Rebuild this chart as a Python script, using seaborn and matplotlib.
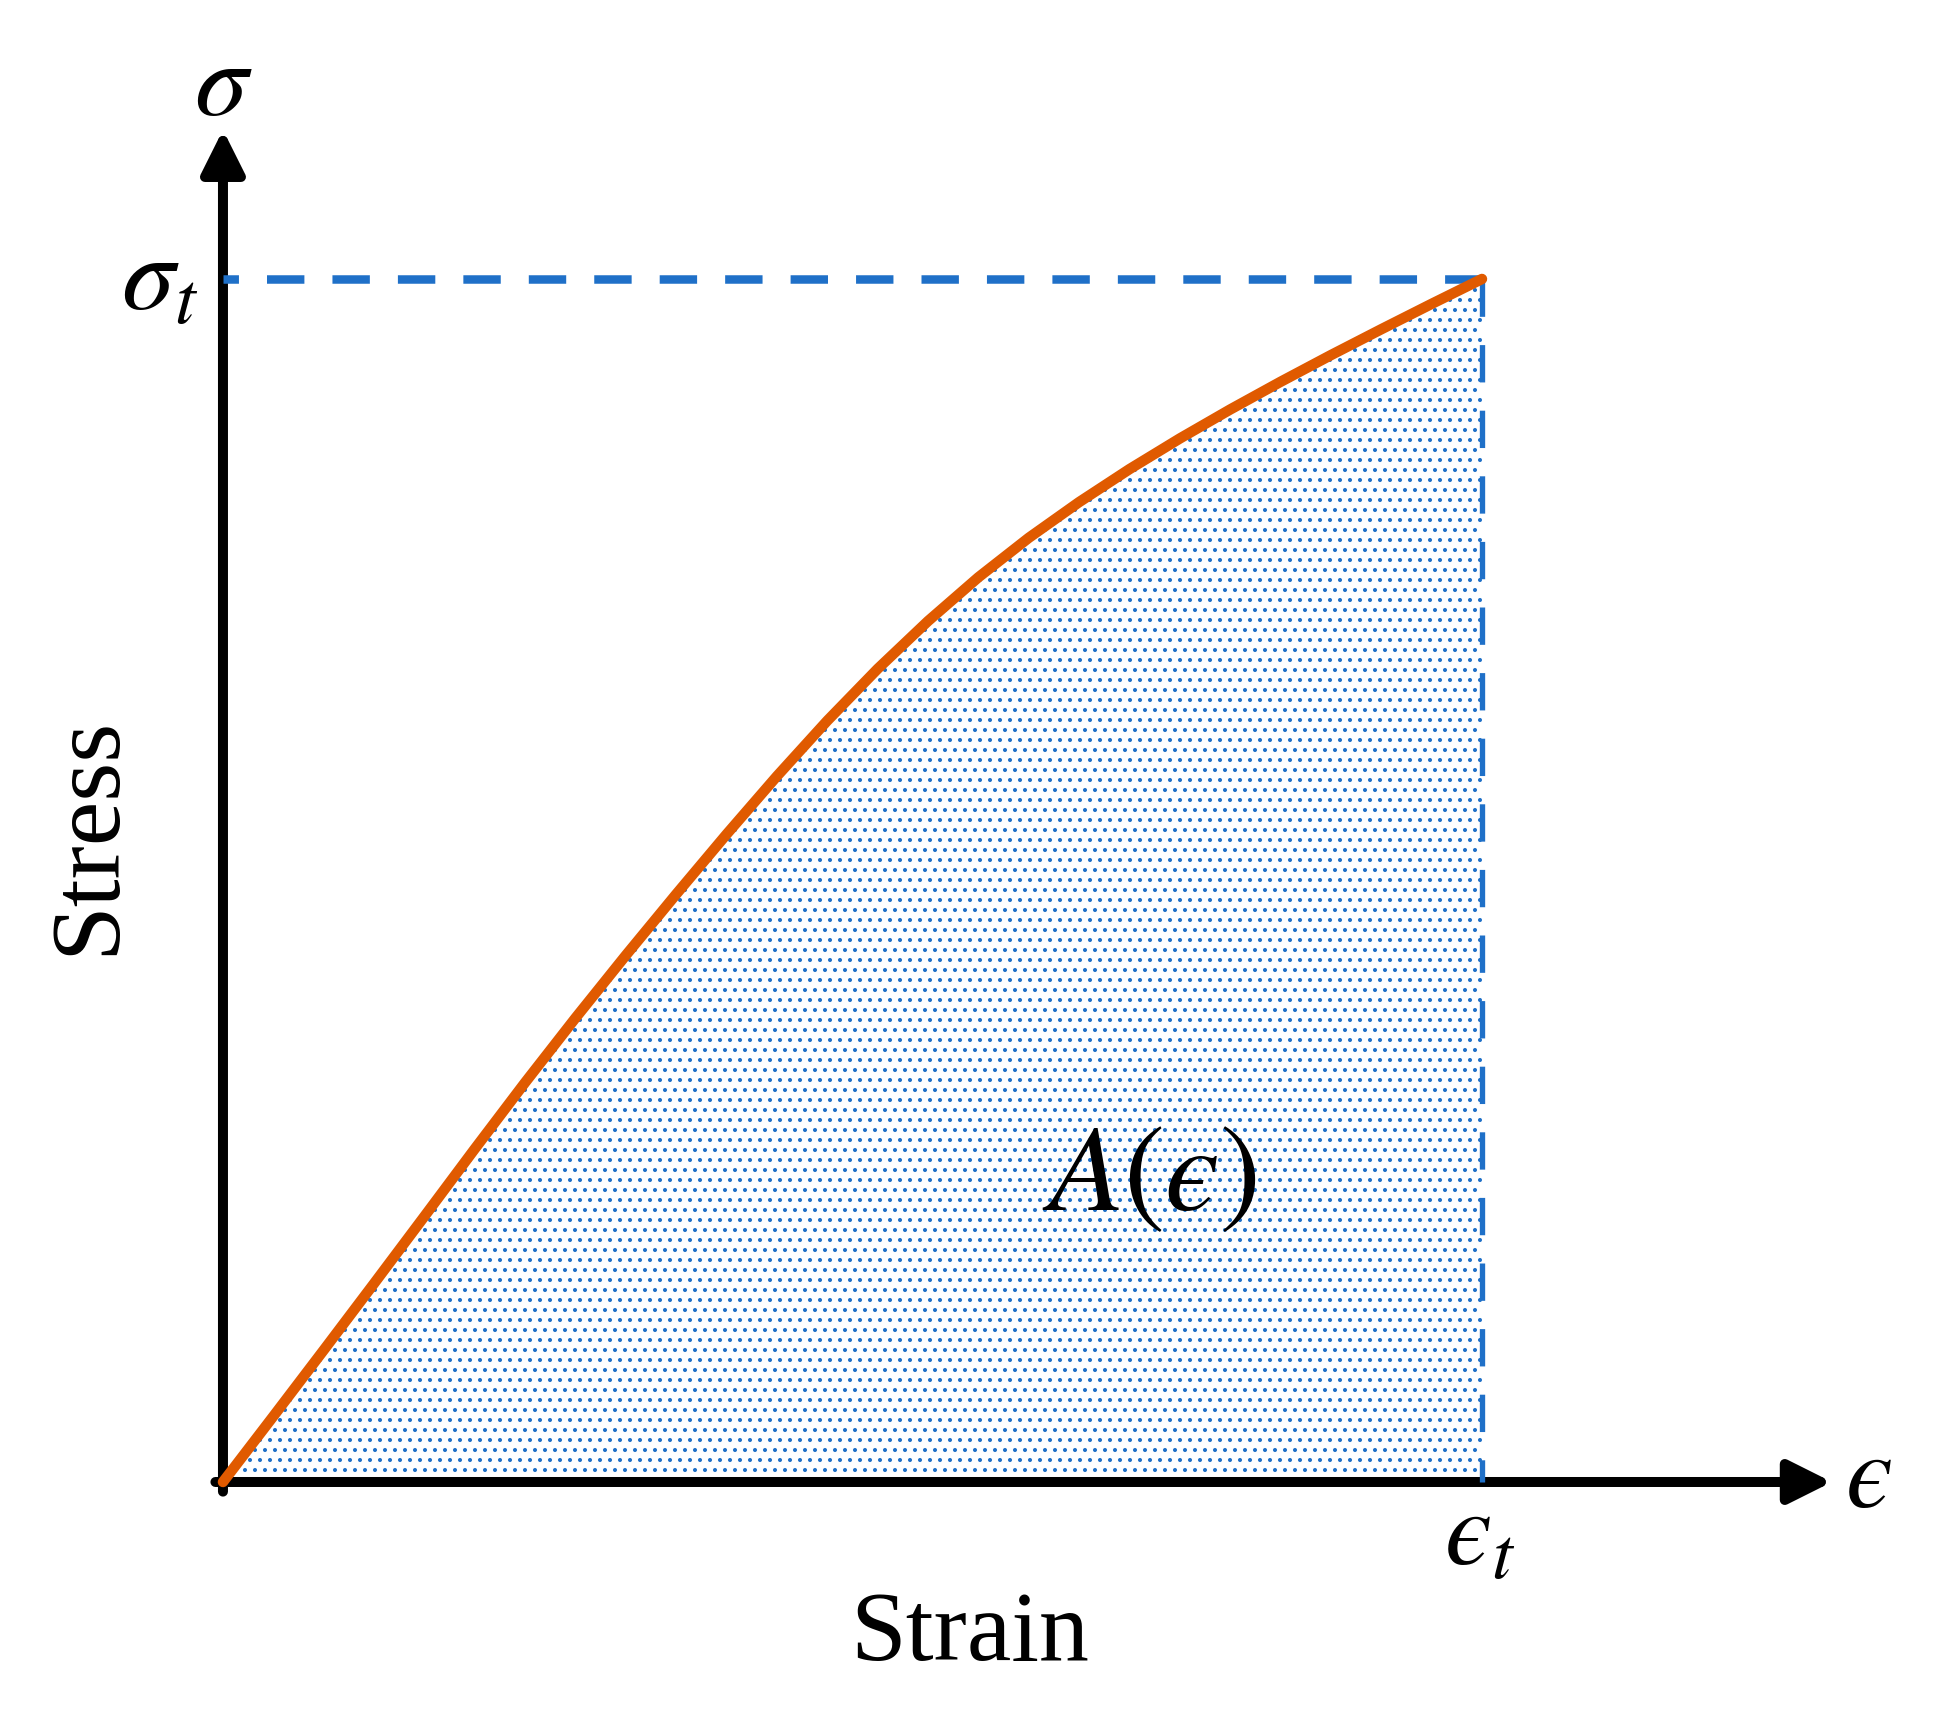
import numpy as np
import pandas as pd
import matplotlib
matplotlib.use("Agg")
import matplotlib.pyplot as plt
import seaborn as sns

# ---- data (normalised: strain / eps_t, stress / sigma_t) ----
strain = [0.00, 0.04, 0.08, 0.12, 0.16, 0.20, 0.24, 0.28, 0.32, 0.36,
          0.40, 0.44, 0.48, 0.52, 0.56, 0.60, 0.64, 0.68, 0.72, 0.76,
          0.80, 0.84, 0.88, 0.92, 0.96, 1.00]
stress = [0.0000, 0.0546, 0.1096, 0.1650, 0.2208, 0.2769, 0.3321, 0.3857, 0.4378, 0.4886,
          0.5384, 0.5867, 0.6328, 0.6759, 0.7156, 0.7520, 0.7848, 0.8145, 0.8419, 0.8674,
          0.8915, 0.9145, 0.9367, 0.9582, 0.9793, 1.0000]
eps_t = 1.0
sig_t = 1.0

x_label = "Strain"
y_label = "Stress"
area_label = "$A(\u03f5)$"
x_axis_sym = "$\u03f5$"
y_axis_sym = r"$\sigma$"
x_tick_sym = "$\u03f5_t$"
y_tick_sym = r"$\sigma_t$"

ORANGE = "#E05A00"
BLUE = "#1F70C8"

sns.set_style("white")
plt.rcParams["font.family"] = ["Liberation Serif", "DejaVu Serif"]
plt.rcParams["mathtext.fontset"] = "stix"
plt.rcParams["hatch.color"] = BLUE
plt.rcParams["hatch.linewidth"] = 1.2
plt.rcParams["text.color"] = "black"

DPI = 120
fig = plt.figure(figsize=(1941 / DPI, 1709 / DPI), dpi=DPI)
ax = fig.add_axes([0, 0, 1, 1])
ax.set_xlim(-0.1771, 1.3646)
ax.set_ylim(-0.1887, 1.2319)
ax.axis("off")

df = pd.DataFrame({"strain": strain, "stress": stress})

# hatched area under the curve
ax.fill_between(df["strain"], 0, df["stress"], facecolor="none",
                edgecolor=BLUE, hatch="..", linewidth=0, zorder=1)

# axes with arrows
arrow_kw = dict(arrowstyle="-|>,head_length=0.4,head_width=0.2",
                color="black", lw=6.0, mutation_scale=54,
                shrinkA=0, shrinkB=0)
ax.annotate("", xy=(1.278, 0), xytext=(-0.006, 0), arrowprops=arrow_kw, zorder=3)
ax.annotate("", xy=(0, 1.124), xytext=(0, -0.008), arrowprops=arrow_kw, zorder=3)

# dashed guides
ax.plot([eps_t, 0], [sig_t, sig_t], color=BLUE, lw=5.1,
        dashes=(4.4, 3.3), dash_capstyle="butt", zorder=4)
ax.plot([eps_t, eps_t], [sig_t, 0], color=BLUE, lw=3.2,
        dashes=(7.0, 5.3), dash_capstyle="butt", zorder=4)

# stress-strain curve
sns.lineplot(data=df, x="strain", y="stress", ax=ax, color=ORANGE,
             linewidth=6.3, zorder=5, legend=False)
for ln in ax.lines[-1:]:
    ln.set_solid_joinstyle("round")
ax.set_xlabel("")
ax.set_ylabel("")
ax.axis("off")

# texts
ax.text(0.5933, -0.148, x_label, ha="center", va="baseline", fontsize=60, color="black")
ax.text(-0.0874, 0.5378, y_label, ha="center", va="baseline", fontsize=60,
        rotation=90, rotation_mode="anchor", color="black")
ax.text(0.7355, 0.2261, area_label, ha="center", va="baseline", fontsize=74, color="black")
ax.text(0.0, 1.1363, y_axis_sym, ha="center", va="baseline", fontsize=64, color="black")
ax.text(1.2883, -0.0208, x_axis_sym, ha="left", va="baseline", fontsize=64, color="black")
ax.text(-0.020, 0.974, y_tick_sym, ha="right", va="baseline", fontsize=64, color="black")
ax.text(0.998, -0.069, x_tick_sym, ha="center", va="baseline", fontsize=64, color="black")

fig.savefig("out.png", dpi=DPI)
